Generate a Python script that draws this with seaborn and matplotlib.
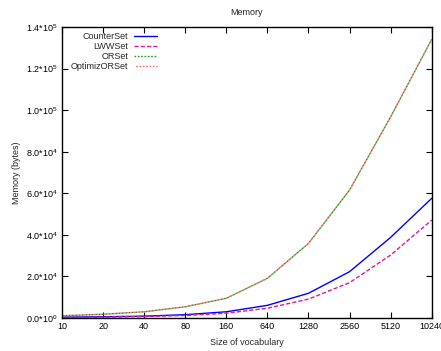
import matplotlib
matplotlib.use("Agg")
import matplotlib.pyplot as plt
import seaborn as sns
import pandas as pd

sizes = ["10", "20", "40", "80", "160", "640", "1280", "2560", "5120", "10240"]
counter_set = [400, 600, 900, 1600, 3000, 6100, 11900, 22300, 38800, 57600]
lww_set = [300, 450, 700, 1200, 2300, 4700, 9100, 17000, 30300, 47100]
or_set = [1100, 1800, 3000, 5400, 9500, 19100, 35900, 61600, 96800, 134100]
optimiz_or_set = [1100, 1800, 3000, 5400, 9500, 19100, 35900, 61600, 96800, 134100]

series_names = ["CounterSet", "LWWSet", "ORSet", "OptimizORSet"]
series_values = [counter_set, lww_set, or_set, optimiz_or_set]

y_ticks = [0, 20000, 40000, 60000, 80000, 100000, 120000, 140000]
y_tick_labels = [r"0.0*10$^0$", r"2.0*10$^4$", r"4.0*10$^4$", r"6.0*10$^4$",
                 r"8.0*10$^4$", r"1.0*10$^5$", r"1.2*10$^5$", r"1.4*10$^5$"]

rows = []
for name, vals in zip(series_names, series_values):
    for i, v in enumerate(vals):
        rows.append({"pos": i, "memory": v, "set": name})
df = pd.DataFrame(rows)

sns.set_theme(style="white")
plt.rcParams["font.family"] = ["Liberation Sans", "DejaVu Sans"]
plt.rcParams["mathtext.default"] = "regular"

fig = plt.figure(figsize=(4.41, 3.51), dpi=100)
ax = fig.add_axes([0.1406, 0.094, 0.8384, 0.829])

palette = {"CounterSet": "#0000ff", "LWWSet": "#e0189a",
           "ORSet": "#1a9a1a", "OptimizORSet": "#ff6a6a"}
dashes = {"CounterSet": "", "LWWSet": (3, 1.5),
          "ORSet": (1.2, 1.2), "OptimizORSet": (1.2, 1.2)}

sns.lineplot(data=df, x="pos", y="memory", hue="set", style="set",
             palette=palette, dashes=dashes, hue_order=series_names,
             style_order=series_names, linewidth=1.0, ax=ax, legend=True)

# interleave the two overlapping dotted lines
ax.lines[3].set_linestyle((1.2, (1.2, 1.2)))

ax.set_xlim(0, len(sizes) - 1)
ax.set_ylim(0, 140000)
ax.set_xticks(range(len(sizes)))
ax.set_xticklabels(sizes)
ax.set_yticks(y_ticks)
ax.set_yticklabels(y_tick_labels)
ax.tick_params(direction="in", length=4, width=0.8, labelsize=6.5, colors="black",
               top=True, right=True, bottom=True, left=True, pad=3)
for spine in ax.spines.values():
    spine.set_color("black")
    spine.set_linewidth(1.0)

ax.set_xlabel("Size of vocabulary", fontsize=6.5, labelpad=5)
ax.set_ylabel("Memory (bytes)", fontsize=6.5, labelpad=3.5)
ax.set_title("Memory", fontsize=6.5, pad=9)

handles, labels = ax.get_legend_handles_labels()
leg = ax.legend(handles, labels, loc="upper left", bbox_to_anchor=(0.01, 1.0),
                markerfirst=False, frameon=False, fontsize=6.5,
                handlelength=2.6, handletextpad=0.6, labelspacing=0.12,
                borderaxespad=0.15)
for line in leg.get_lines():
    line.set_linewidth(1.0)
leg.get_lines()[3].set_linestyle((1.2, (1.2, 1.2)))

fig.savefig("out.png", dpi=100)
